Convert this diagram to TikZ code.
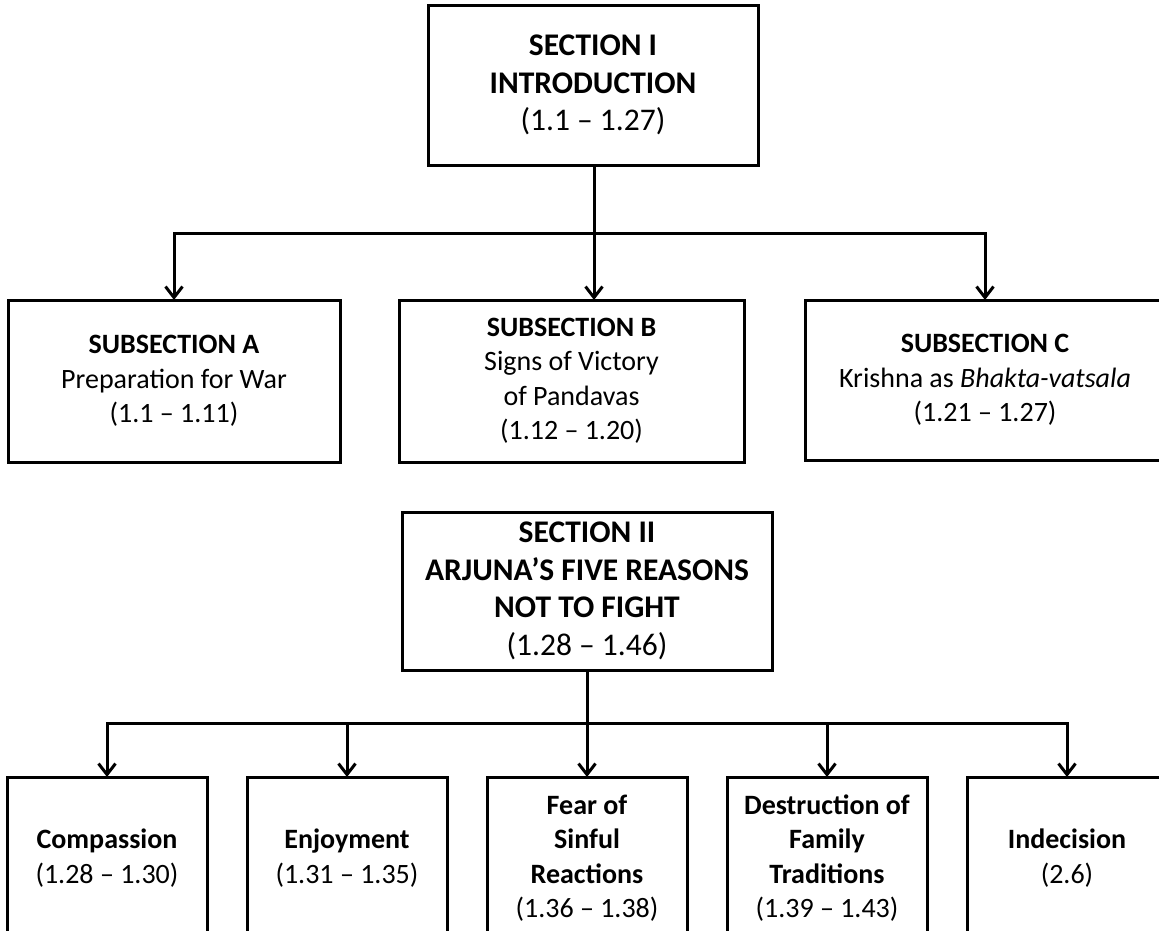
\documentclass[tikz,border=0pt]{standalone}
\usepackage{fontspec}
\setmainfont{Carlito}
\usepackage{tikz}
\usetikzlibrary{arrows.meta,positioning}

\tikzset{
  box/.style={draw, line width=3pt, outer sep=0pt, align=center,
    font=\fontsize{28}{34.5}\selectfont, minimum height=162pt},
  secbox/.style={box, font=\fontsize{31.5}{37.5}\selectfont},
  arr/.style={-{Straight Barb[length=11pt,width=17pt]}, line width=3pt},
  bus/.style={line width=3pt}
}

\begin{document}
\begin{tikzpicture}[x=1pt, y=-1pt]
        \clip (0,0) rectangle (1159,930);

        % section I and its three subsections
        \node (sec1) [secbox, minimum width=330pt, minimum height=160pt] at (593,85)
              {\textbf{SECTION I}\\\textbf{INTRODUCTION}\\(1.1 – 1.27)};
        \node (subA) [box, minimum width=332pt] at (174,381)
              {\textbf{SUBSECTION A}\\Preparation for War\\(1.1 – 1.11)};
        \node (subB) [box, minimum width=345pt] at (571.5,381)
              {\textbf{SUBSECTION B}\\Signs of Victory\\of Pandavas\\(1.12 – 1.20)};
        \node (subC) [box, minimum width=360pt, minimum height=160pt] at (985,380)
              {\textbf{SUBSECTION C}\\Krishna as \textit{Bhakta-vatsala}\\(1.21 – 1.27)};

        % section II and the five reasons
        \node (sec2) [secbox, minimum width=370pt, minimum height=158pt] at (587,591)
              {\textbf{SECTION II}\\\textbf{ARJUNA’S FIVE REASONS}\\\textbf{NOT TO FIGHT}\\(1.28 – 1.46)};
        \node (compassion) [box, minimum width=200pt] at (107,858)
              {\textbf{Compassion}\\(1.28 – 1.30)};
        \node (enjoy) [box, minimum width=200pt, right=40pt of compassion]
              {\textbf{Enjoyment}\\(1.31 – 1.35)};
        \node (fear) [box, minimum width=200pt, right=40pt of enjoy]
              {\textbf{Fear of}\\\textbf{Sinful}\\\textbf{Reactions}\\(1.36 – 1.38)};
        \node (destr) [box, minimum width=200pt, right=40pt of fear]
              {\textbf{Destruction of}\\\textbf{Family}\\\textbf{Traditions}\\(1.39 – 1.43)};
        \node (indec) [box, minimum width=200pt, right=40pt of destr]
              {\textbf{Indecision}\\(2.6)};

        \coordinate (bus1) at (594,233);
        \coordinate (bus2) at (sec2.south |- 0,723);

        \draw[bus] (sec1.south -| bus1) -- (bus1);
        \draw[arr] (bus1) -| (subA.north);
        \draw[arr] (bus1) -- (bus1 |- subB.north);
        \draw[arr] (bus1) -| (subC.north);

        \draw[bus] (sec2.south) -- (bus2);
        \draw[arr] (bus2) -| (compassion.north);
        \draw[arr] (bus2) -| (enjoy.north);
        \draw[arr] (bus2) -- (fear.north);
        \draw[arr] (bus2) -| (destr.north);
        \draw[arr] (bus2) -| (indec.north);
      \end{tikzpicture}
\end{document}
